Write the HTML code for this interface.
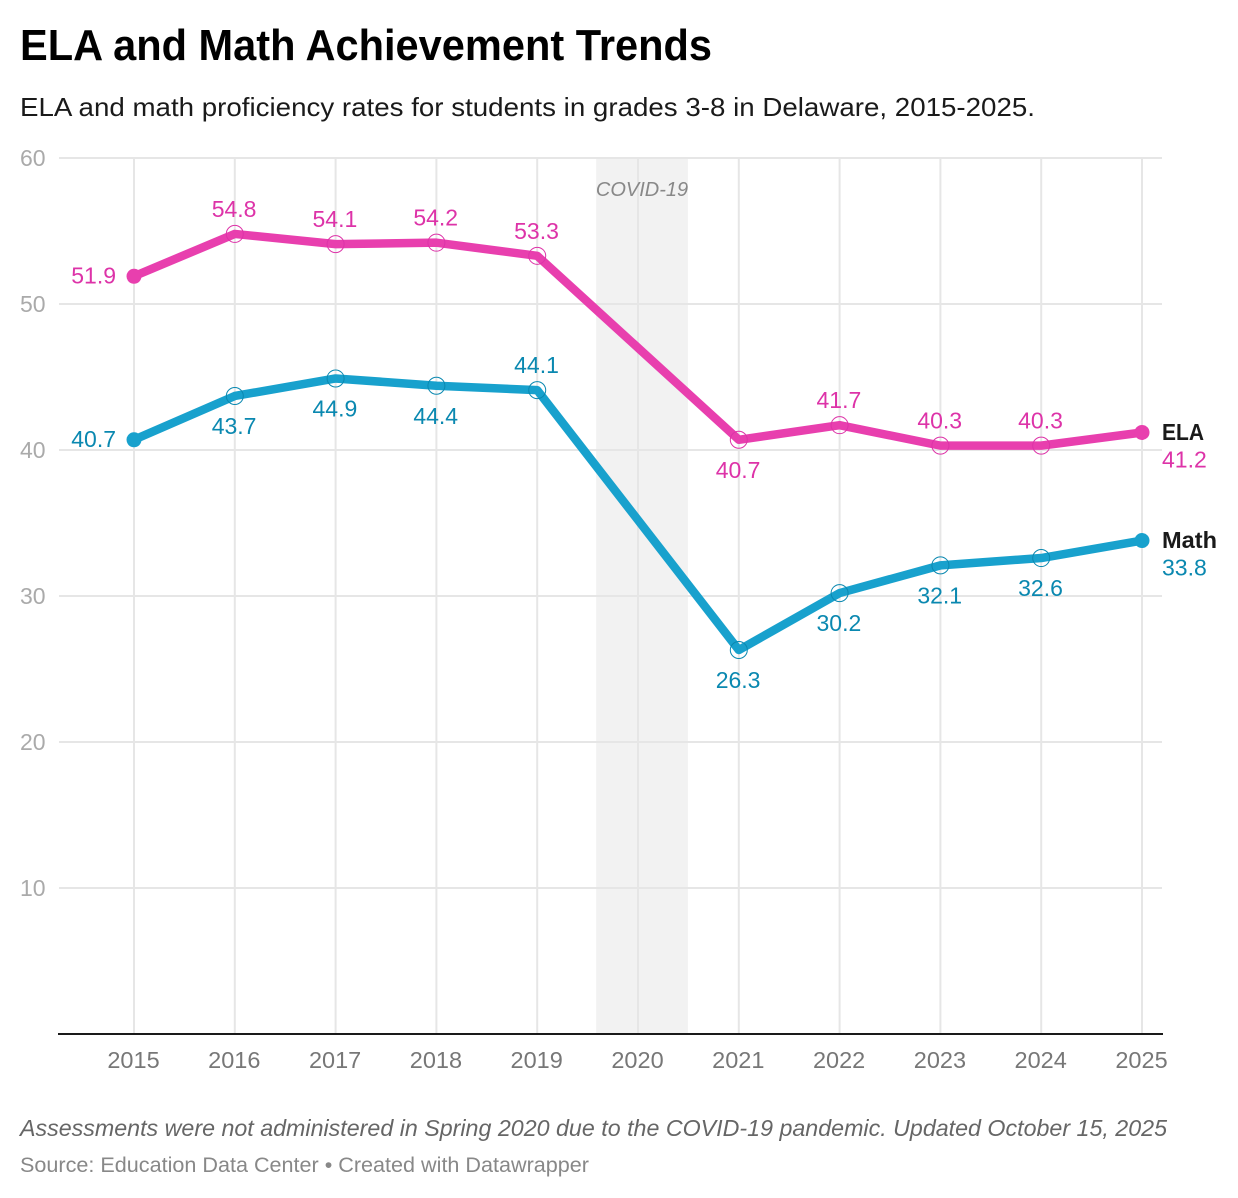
<!DOCTYPE html>
<html lang="en">
<head>
<meta charset="utf-8">
<title>ELA and Math Achievement Trends</title>
<style>
  html, body { margin: 0; padding: 0; background: #fff; }
  body { width: 1238px; height: 1198px; overflow: hidden; }
  svg { display: block; font-family: "Liberation Sans", Arial, sans-serif; }
</style>
</head>
<body>
<svg id="chart" width="1238" height="1198" viewBox="0 0 1238 1198" xmlns="http://www.w3.org/2000/svg">
  <text x="20" y="60" font-size="44" font-weight="700" fill="#000" textLength="692" lengthAdjust="spacingAndGlyphs">ELA and Math Achievement Trends</text>
  <text x="20" y="116" font-size="26" fill="#1a1a1a" textLength="1015" lengthAdjust="spacingAndGlyphs">ELA and math proficiency rates for students in grades 3-8 in Delaware, 2015-2025.</text>
  <g id="plot"></g>
  <text x="20" y="1136" font-size="23" font-style="italic" fill="#666" textLength="1147" lengthAdjust="spacingAndGlyphs">Assessments were not administered in Spring 2020 due to the COVID-19 pandemic. Updated October 15, 2025</text>
  <text x="20" y="1172" font-size="21" fill="#888" textLength="569" lengthAdjust="spacingAndGlyphs">Source: Education Data Center • Created with Datawrapper</text>
</svg>
<script>
const years = [2015, 2016, 2017, 2018, 2019, 2020, 2021, 2022, 2023, 2024, 2025];
const yTicks = [10, 20, 30, 40, 50, 60];
const elaValues = [51.9, 54.8, 54.1, 54.2, 53.3, null, 40.7, 41.7, 40.3, 40.3, 41.2];
const mathValues = [40.7, 43.7, 44.9, 44.4, 44.1, null, 26.3, 30.2, 32.1, 32.6, 33.8];
const elaLabelSides = ['left', 'up', 'up', 'up', 'up', '', 'down', 'up', 'up', 'up', 'end'];
const mathLabelSides = ['left', 'down', 'down', 'down', 'up', '', 'down', 'down', 'down', 'down', 'end'];
const covidBand = [2019.585, 2020.495];

const NS = 'http://www.w3.org/2000/svg';
const plot = document.getElementById('plot');
const xScale = (year) => 134 + (year - 2015) * 100.8;
const yScale = (value) => 1034 - value * 14.6;

function make(tag, attrs, text) {
  const el = document.createElementNS(NS, tag);
  for (const k in attrs) el.setAttribute(k, attrs[k]);
  if (text !== undefined) el.textContent = text;
  plot.appendChild(el);
  return el;
}

// COVID band sits beneath every gridline
const band = make('rect', {
  x: xScale(covidBand[0]), y: yScale(60) + 1,
  width: xScale(covidBand[1]) - xScale(covidBand[0]), height: yScale(0) - yScale(60) - 1,
  fill: '#f2f2f2'
});



// Horizontal gridlines and y tick labels
yTicks.forEach((t) => {
  const line = make('line', { x1: 59, x2: 1162, y1: yScale(t), y2: yScale(t), stroke: '#e6e6e6', 'stroke-width': 2 });
  
  
  const label = make('text', { x: 20, y: yScale(t) + 8, 'font-size': 23, fill: '#aaaaaa' }, String(t));
  
  
});

// Vertical gridlines and x tick labels
years.forEach((yr) => {
  const line = make('line', { x1: xScale(yr), x2: xScale(yr), y1: yScale(60), y2: yScale(0), stroke: '#e6e6e6', 'stroke-width': 2 });
  
  
  const label = make('text', { x: xScale(yr) - 0.5, y: 1068, 'font-size': 23.5, fill: '#777777', 'text-anchor': 'middle' }, String(yr));
  
  
});

const covidLabel = make('text', {
  x: (xScale(covidBand[0]) + xScale(covidBand[1])) / 2, y: 196,
  'font-size': 20, 'font-style': 'italic', fill: '#888888', 'text-anchor': 'middle'
}, 'COVID-19');



const baseline = make('line', { x1: 58, x2: 1163, y1: yScale(0), y2: yScale(0), stroke: '#1a1a1a', 'stroke-width': 2 });



function drawSeries(key, name, nameWidth, values, sides, lineColor, textColor) {
  const pts = [];
  values.forEach((v, i) => {
    if (v !== null) pts.push([xScale(years[i]), yScale(v), v, sides[i], years[i]]);
  });
  const line = make('polyline', {
    points: pts.map((p) => p[0] + ',' + p[1]).join(' '),
    fill: 'none', stroke: lineColor, 'stroke-width': 8.5, 'stroke-linejoin': 'round', 'stroke-linecap': 'round'
  });
  
  

  pts.forEach((p, idx) => {
    const isEnd = idx === 0 || idx === pts.length - 1;
    const dot = make('circle', isEnd
      ? { cx: p[0], cy: p[1], r: 7.5, fill: lineColor }
      : { cx: p[0], cy: p[1], r: 8.5, fill: 'none', stroke: textColor, 'stroke-width': 1 });
    
    

    const attrs = { 'font-size': 23, fill: textColor };
    if (p[3] === 'left') {
      attrs.x = p[0] - 18; attrs.y = p[1] + 7; attrs['text-anchor'] = 'end';
    } else if (p[3] === 'up') {
      attrs.x = p[0] - 0.7; attrs.y = p[1] - 17; attrs['text-anchor'] = 'middle';
    } else if (p[3] === 'down') {
      attrs.x = p[0] - 0.7; attrs.y = p[1] + 38; attrs['text-anchor'] = 'middle';
    } else {
      attrs.x = p[0] + 20; attrs.y = p[1] + 35;
    }
    const label = make('text', attrs, p[2].toFixed(1));
    
    

    if (p[3] === 'end') {
      const nameLabel = make('text', { x: p[0] + 20, y: p[1] + 7.5, 'font-size': 23, 'font-weight': 700, fill: '#1a1a1a', textLength: nameWidth, lengthAdjust: 'spacingAndGlyphs' }, name);
      
      
    }
  });
}

drawSeries('ela', 'ELA', 42, elaValues, elaLabelSides, '#e83fae', '#dd33a8');
drawSeries('math', 'Math', 55, mathValues, mathLabelSides, '#18a1cd', '#0a88b0');
</script>
</body>
</html>
